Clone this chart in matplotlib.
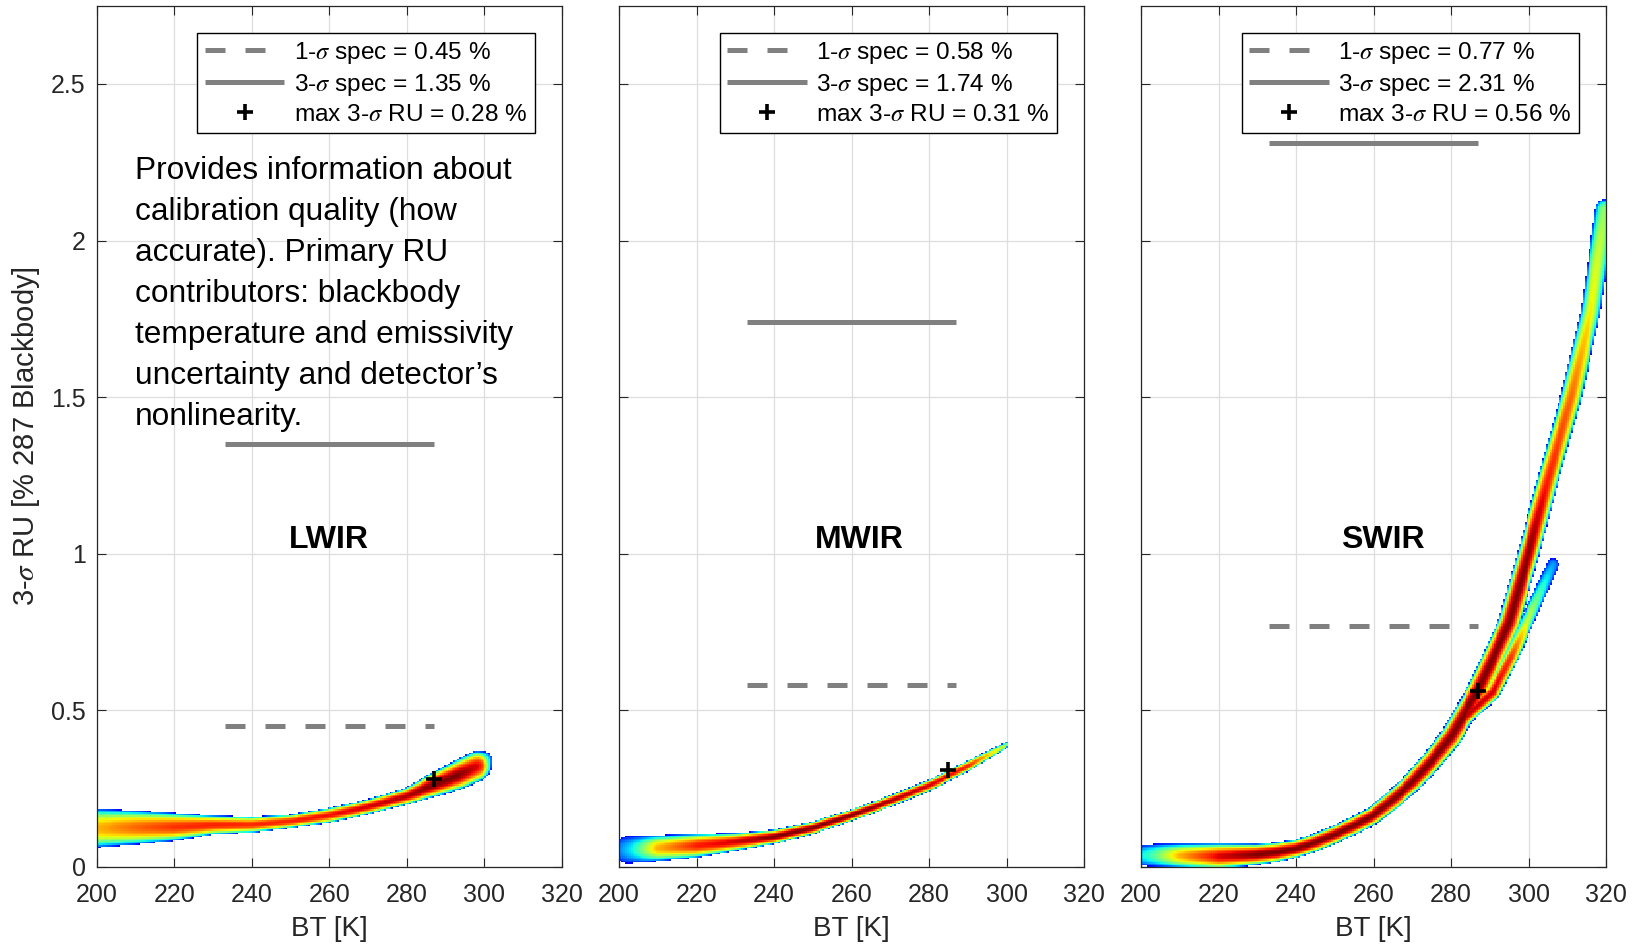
import numpy as np
import matplotlib.pyplot as plt
from matplotlib.ticker import FormatStrFormatter

plt.rcParams['font.family'] = ['Liberation Sans', 'DejaVu Sans']
plt.rcParams['mathtext.fontset'] = 'stix'

bands = ['LWIR', 'MWIR', 'SWIR']
spec_1sigma = [0.45, 0.58, 0.77]     # [%]
spec_3sigma = [1.35, 1.74, 2.31]     # [%]
max_ru = [0.28, 0.31, 0.56]          # max 3-sigma RU [%]
max_bt = [287, 285, 287]             # BT at the max [K]
spec_bt = [233, 287]                 # BT span of the spec lines [K]

# ridge of each RU cloud: BT [K], RU [%], half thickness [px], peak density (0-1)
lwir_bt = [200, 210, 220, 230, 240, 250, 260, 270, 280, 287, 293, 298, 300]
lwir_ru = [0.124, 0.126, 0.128, 0.134, 0.135, 0.146, 0.165, 0.192, 0.226, 0.262, 0.292, 0.322, 0.343]
lwir_hw = [19.5, 17.0, 14.0, 9.5, 8.0, 6.8, 7.4, 7.4, 8.2, 12.0, 14.5, 15.0, 8.0]
lwir_pk = [0.72, 0.80, 0.86, 0.88, 0.87, 0.88, 0.90, 0.93, 0.96, 1.00, 1.00, 0.92, 0.45]

mwir_bt = [202, 206, 210, 220, 230, 240, 250, 260, 270, 280, 290, 300]
mwir_ru = [0.055, 0.057, 0.060, 0.068, 0.080, 0.096, 0.125, 0.165, 0.210, 0.260, 0.322, 0.390]
mwir_hw = [13.5, 13.5, 13.0, 12.0, 9.0, 7.2, 6.2, 5.6, 5.6, 5.6, 5.0, 3.0]
mwir_pk = [0.30, 0.45, 0.72, 0.88, 0.93, 1.00, 1.00, 1.00, 0.97, 0.93, 0.88, 0.55]

swir_bt = [200, 205, 210, 220, 230, 235, 240, 245, 250, 255, 260, 265, 270, 275, 280,
           287, 291, 295, 300, 305, 311, 316, 318.7, 319.6]
swir_ru = [0.037, 0.037, 0.036, 0.034, 0.040, 0.047, 0.058, 0.078, 0.104, 0.132, 0.165, 0.215, 0.270, 0.338, 0.415,
           0.565, 0.670, 0.780, 1.000, 1.234, 1.500, 1.770, 2.000, 2.100]
swir_hw = [10.5, 11.5, 12.0, 13.0, 10.5, 10.0, 9.0, 9.0, 9.0, 9.0, 9.0, 9.5, 10.0, 10.5, 11.0,
           11.0, 11.0, 11.0, 11.0, 10.5, 10.5, 10.0, 10.0, 9.0]
swir_pk = [0.35, 0.50, 0.72, 0.92, 1.00, 1.00, 1.00, 1.00, 1.00, 1.00, 1.00, 1.00, 1.00, 1.00, 1.00,
           1.00, 1.00, 1.00, 1.00, 0.88, 0.80, 0.66, 0.58, 0.52]

# second SWIR branch splitting off above the max point
swir2_bt = [283, 290.8, 295.5, 299.4, 306.3]
swir2_ru = [0.47, 0.558, 0.670, 0.776, 0.965]
swir2_hw = [8.0, 8.0, 7.5, 7.0, 6.0]
swir2_pk = [0.95, 0.93, 0.86, 0.62, 0.28]

note = ("Provides information about\ncalibration quality (how\naccurate). Primary RU\n"
        "contributors: blackbody\ntemperature and emissivity\nuncertainty and detector\u2019s\n"
        "nonlinearity.")

W, H = 1635, 947
fig = plt.figure(figsize=(W / 100, H / 100), dpi=100)
ax_l = [0.0591, 0.3786, 0.6979]
ax_b, ax_w, ax_h = 0.0848, 0.2844, 0.9092
xlim, ylim = (200, 320), (0, 2.75)
sx = ax_w * W / (xlim[1] - xlim[0])   # px per K
sy = ax_h * H / (ylim[1] - ylim[0])   # px per %

bt_edges = np.arange(200, 320.001, 0.5)
ru_edges = np.arange(0, 2.75001, 0.005)
bt_c = 0.5 * (bt_edges[1:] + bt_edges[:-1])
ru_c = 0.5 * (ru_edges[1:] + ru_edges[:-1])
GX, GY = np.meshgrid((bt_c - 200) * sx, ru_c * sy)


def cloud(bt, ru, hw, pk, floor=0.12, gamma=0.8):
    xn = (np.asarray(bt) - 200) * sx
    yn = np.asarray(ru) * sy
    s = np.r_[0, np.cumsum(np.hypot(np.diff(xn), np.diff(yn)))]
    sd = np.linspace(0, s[-1], int(s[-1]) + 2)
    xd, yd = np.interp(sd, s, xn), np.interp(sd, s, yn)
    wd, pd = np.interp(sd, s, hw), np.interp(sd, s, pk)
    out = np.full(GX.shape, np.nan)
    for x0, y0, w, p in zip(xd, yd, wd, pd):
        d = np.hypot(GX - x0, GY - y0) / w
        v = np.where(d <= 1, floor + (p - floor) * np.clip(1 - d**2, 0, None) ** gamma, np.nan)
        out = np.fmax(out, v)
    return out


clouds = [
    cloud(lwir_bt, lwir_ru, lwir_hw, lwir_pk),
    cloud(mwir_bt, mwir_ru, mwir_hw, mwir_pk),
    np.fmax(cloud(swir_bt, swir_ru, swir_hw, swir_pk),
            cloud(swir2_bt, swir2_ru, swir2_hw, swir2_pk)),
]
label_x = [260, 262, 262.5]

spec_col = '#808080'
axis_col = '#262626'

for i, band in enumerate(bands):
    ax = fig.add_axes([ax_l[i], ax_b, ax_w, ax_h])
    ax.imshow(np.ma.masked_invalid(clouds[i]), extent=[200, 320, 0, 2.75], origin='lower',
              aspect='auto', cmap='jet', vmin=0, vmax=1, interpolation='nearest', zorder=2)

    l1, = ax.plot(spec_bt, [spec_1sigma[i]] * 2, color=spec_col, lw=3.6, dashes=(4, 4),
                  solid_capstyle='butt', zorder=3)
    l3, = ax.plot(spec_bt, [spec_3sigma[i]] * 2, color=spec_col, lw=3.6,
                  solid_capstyle='butt', zorder=3)
    mk, = ax.plot(max_bt[i], max_ru[i], '+', color='k', ms=12, mew=2.6, zorder=4)

    ax.text(label_x[i], 1.018, band, ha='center', va='baseline', fontsize=23,
            fontweight='bold', zorder=5)

    leg = ax.legend([l1, l3, mk],
                    [rf'1-$\sigma$ spec = {spec_1sigma[i]:.2f} %',
                     rf'3-$\sigma$ spec = {spec_3sigma[i]:.2f} %',
                     rf'max 3-$\sigma$ RU = {max_ru[i]:.2f} %'],
                    loc='upper right', fontsize=17.6, frameon=True, fancybox=False,
                    edgecolor='k', framealpha=1, handlelength=3.25, handletextpad=0.4,
                    labelspacing=0.24, borderpad=0.3, borderaxespad=1.1)
    leg.get_frame().set_linewidth(1.0)

    ax.set_xlim(*xlim)
    ax.set_ylim(*ylim)
    ax.set_xticks(range(200, 321, 20))
    ax.set_yticks(np.arange(0, 2.51, 0.5))
    ax.yaxis.set_major_formatter(FormatStrFormatter('%g'))
    ax.grid(True, color='#dedede', lw=0.9)
    ax.set_axisbelow(True)
    ax.tick_params(direction='in', top=True, right=True, length=6.7, width=0.8,
                   color=axis_col, labelcolor=axis_col, labelsize=18)
    ax.tick_params(axis='x', pad=11.5)
    ax.tick_params(axis='y', pad=8)
    for sp in ax.spines.values():
        sp.set_color(axis_col)
        sp.set_linewidth(0.9)
    ax.set_xlabel('BT [K]', fontsize=20, color=axis_col, labelpad=7)
    if i == 0:
        ax.set_ylabel(r'3-$\sigma$ RU [% 287 Blackbody]', fontsize=21, color=axis_col, labelpad=6)
        ax.text(209.9, 2.27, note, ha='left', va='top', fontsize=22.8, linespacing=1.475,
                zorder=5)
    else:
        ax.set_yticklabels([])

fig.savefig('out.png', dpi=100)
